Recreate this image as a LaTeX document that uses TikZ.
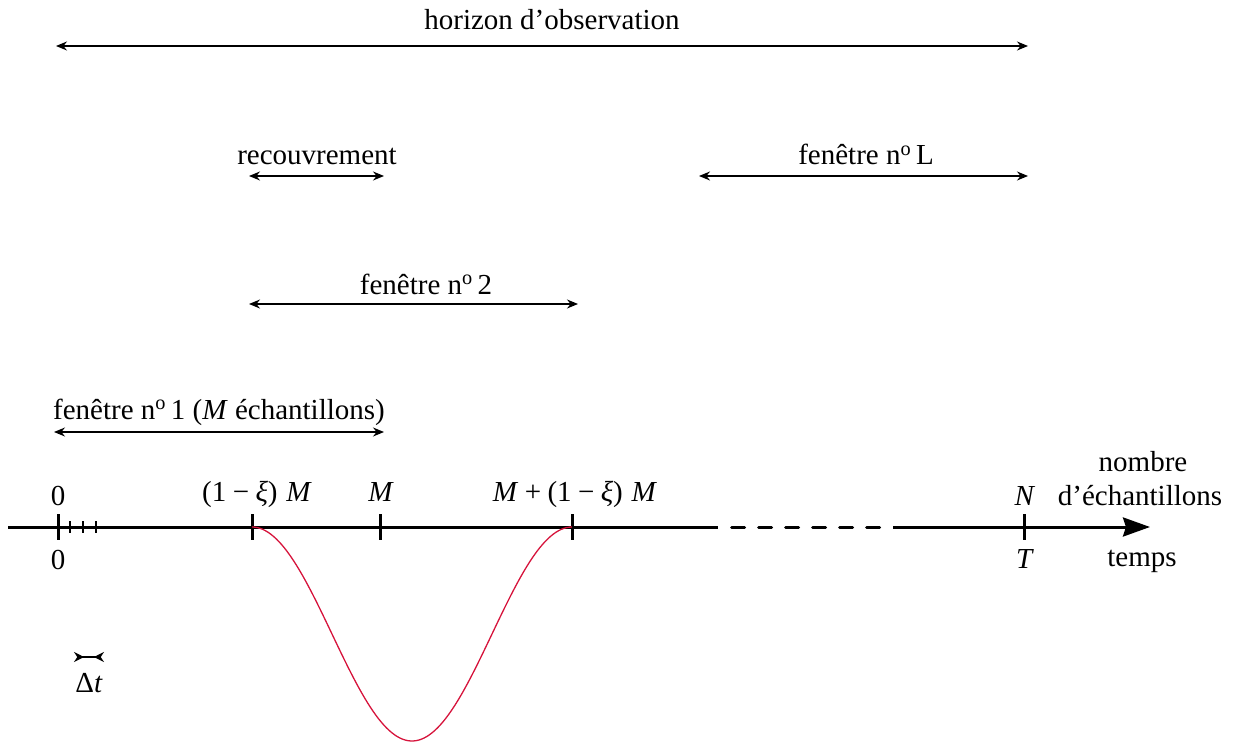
\documentclass[tikz,border=0pt]{standalone}
\usepackage{fontspec}
\setmainfont{Liberation Serif}
\usetikzlibrary{arrows.meta}
\begin{document}
\begin{tikzpicture}[x=1pt,y=-1pt,
  lbl/.style={font=\fontsize{29}{34}\selectfont, inner sep=0pt, anchor=base},
  span/.style={line width=1.4pt, {Stealth[length=11pt,width=9pt]}-{Stealth[length=11pt,width=9pt]}},
  axis/.style={line width=3pt},
  bigtick/.style={line width=3pt},
  smalltick/.style={line width=1.5pt},
  curve/.style={line width=1.3pt, draw={rgb,255:red,214;green,20;blue,60}}]
\useasboundingbox (0,0) rectangle (1233,743);
\newcommand{\ii}[1]{\textit{#1}}
\newcommand{\bsp}{\hspace{0.22em}}
% spans
\coordinate (h1) at (56,46); \coordinate (h2) at (1028,46);
\draw[span] (h1) -- (h2);
\node[lbl] (th) at (552,30) {horizon d’observation};
\coordinate (r1) at (249,176); \coordinate (r2) at (384,176);
\draw[span] (r1) -- (r2);
\node[lbl] (tr) at (317,165) {recouvrement};
\coordinate (l1) at (699,176); \coordinate (l2) at (1028,176);
\draw[span] (l1) -- (l2);
\node[lbl] (tl) at (866,165) {fenêtre n\textsuperscript{o}\,L};
\coordinate (f21) at (249,304); \coordinate (f22) at (578,304);
\draw[span] (f21) -- (f22);
\node[lbl] (t2) at (426,294) {fenêtre n\textsuperscript{o}\,2};
\coordinate (f11) at (54,432); \coordinate (f12) at (384,432);
\draw[span] (f11) -- (f12);
\node[lbl] (t1) at (219,419) {fenêtre n\textsuperscript{o}\,1 (\ii{M} échantillons)};
% axis
\coordinate (a0) at (8,527); \coordinate (a1) at (718,527);
\coordinate (d0) at (731.5,527); \coordinate (d1) at (893,527);
\coordinate (a2) at (1150,527);
\draw[axis] (a0) -- (a1);
\draw[axis, line cap=round, dash pattern=on 13pt off 14pt] (d0) -- (880,527);
\draw[axis, -{Stealth[length=27pt,width=19pt,inset=3pt]}] (d1) -- (a2);
% ticks
\foreach \n/\x in {t0/58,ta/252,tb/380,tc/572,tN/1024}{
  \draw[bigtick] (\x,514) coordinate (\n u) -- (\x,540) coordinate (\n d);
}
\foreach \x in {70,83,96}{
  \draw[smalltick] (\x,521) -- (\x,533);
}
% tick labels
\node[lbl] (z0) at (58,505) {0};
\node[lbl] (z1) at (58,569) {0};
\node[lbl] (la) at (257,501) {(1\bsp−\bsp\ii{ξ})\hspace{0.3em}\ii{M}};
\node[lbl] (lb) at (381,501) {\ii{M}};
\node[lbl] (lc) at (575,501) {\ii{M}\bsp+\bsp(1\bsp−\bsp\ii{ξ})\hspace{0.3em}\ii{M}};
\node[lbl] (lN) at (1025,505) {\ii{N}};
\node[lbl] (lT) at (1025,568) {\ii{T}};
\node[lbl] (nb) at (1143,471) {nombre};
\node[lbl] (ne) at (1140,505) {d’échantillons};
\node[lbl] (tp) at (1142,566) {temps};
% curve
\draw[curve] plot[domain=252:572, samples=120, smooth] (\x, {527+107*(1-cos(1.125*(\x-252)))});
% delta t
\coordinate (dt1) at (74,657); \coordinate (dt2) at (104,657);
\draw[line width=1.4pt, {Stealth[length=10pt,width=10pt,reversed]}-{Stealth[length=10pt,width=10pt,reversed]}] (dt1) -- (dt2);
\node[lbl] (dtl) at (89,692) {Δ\ii{t}};
\end{tikzpicture}
\end{document}
